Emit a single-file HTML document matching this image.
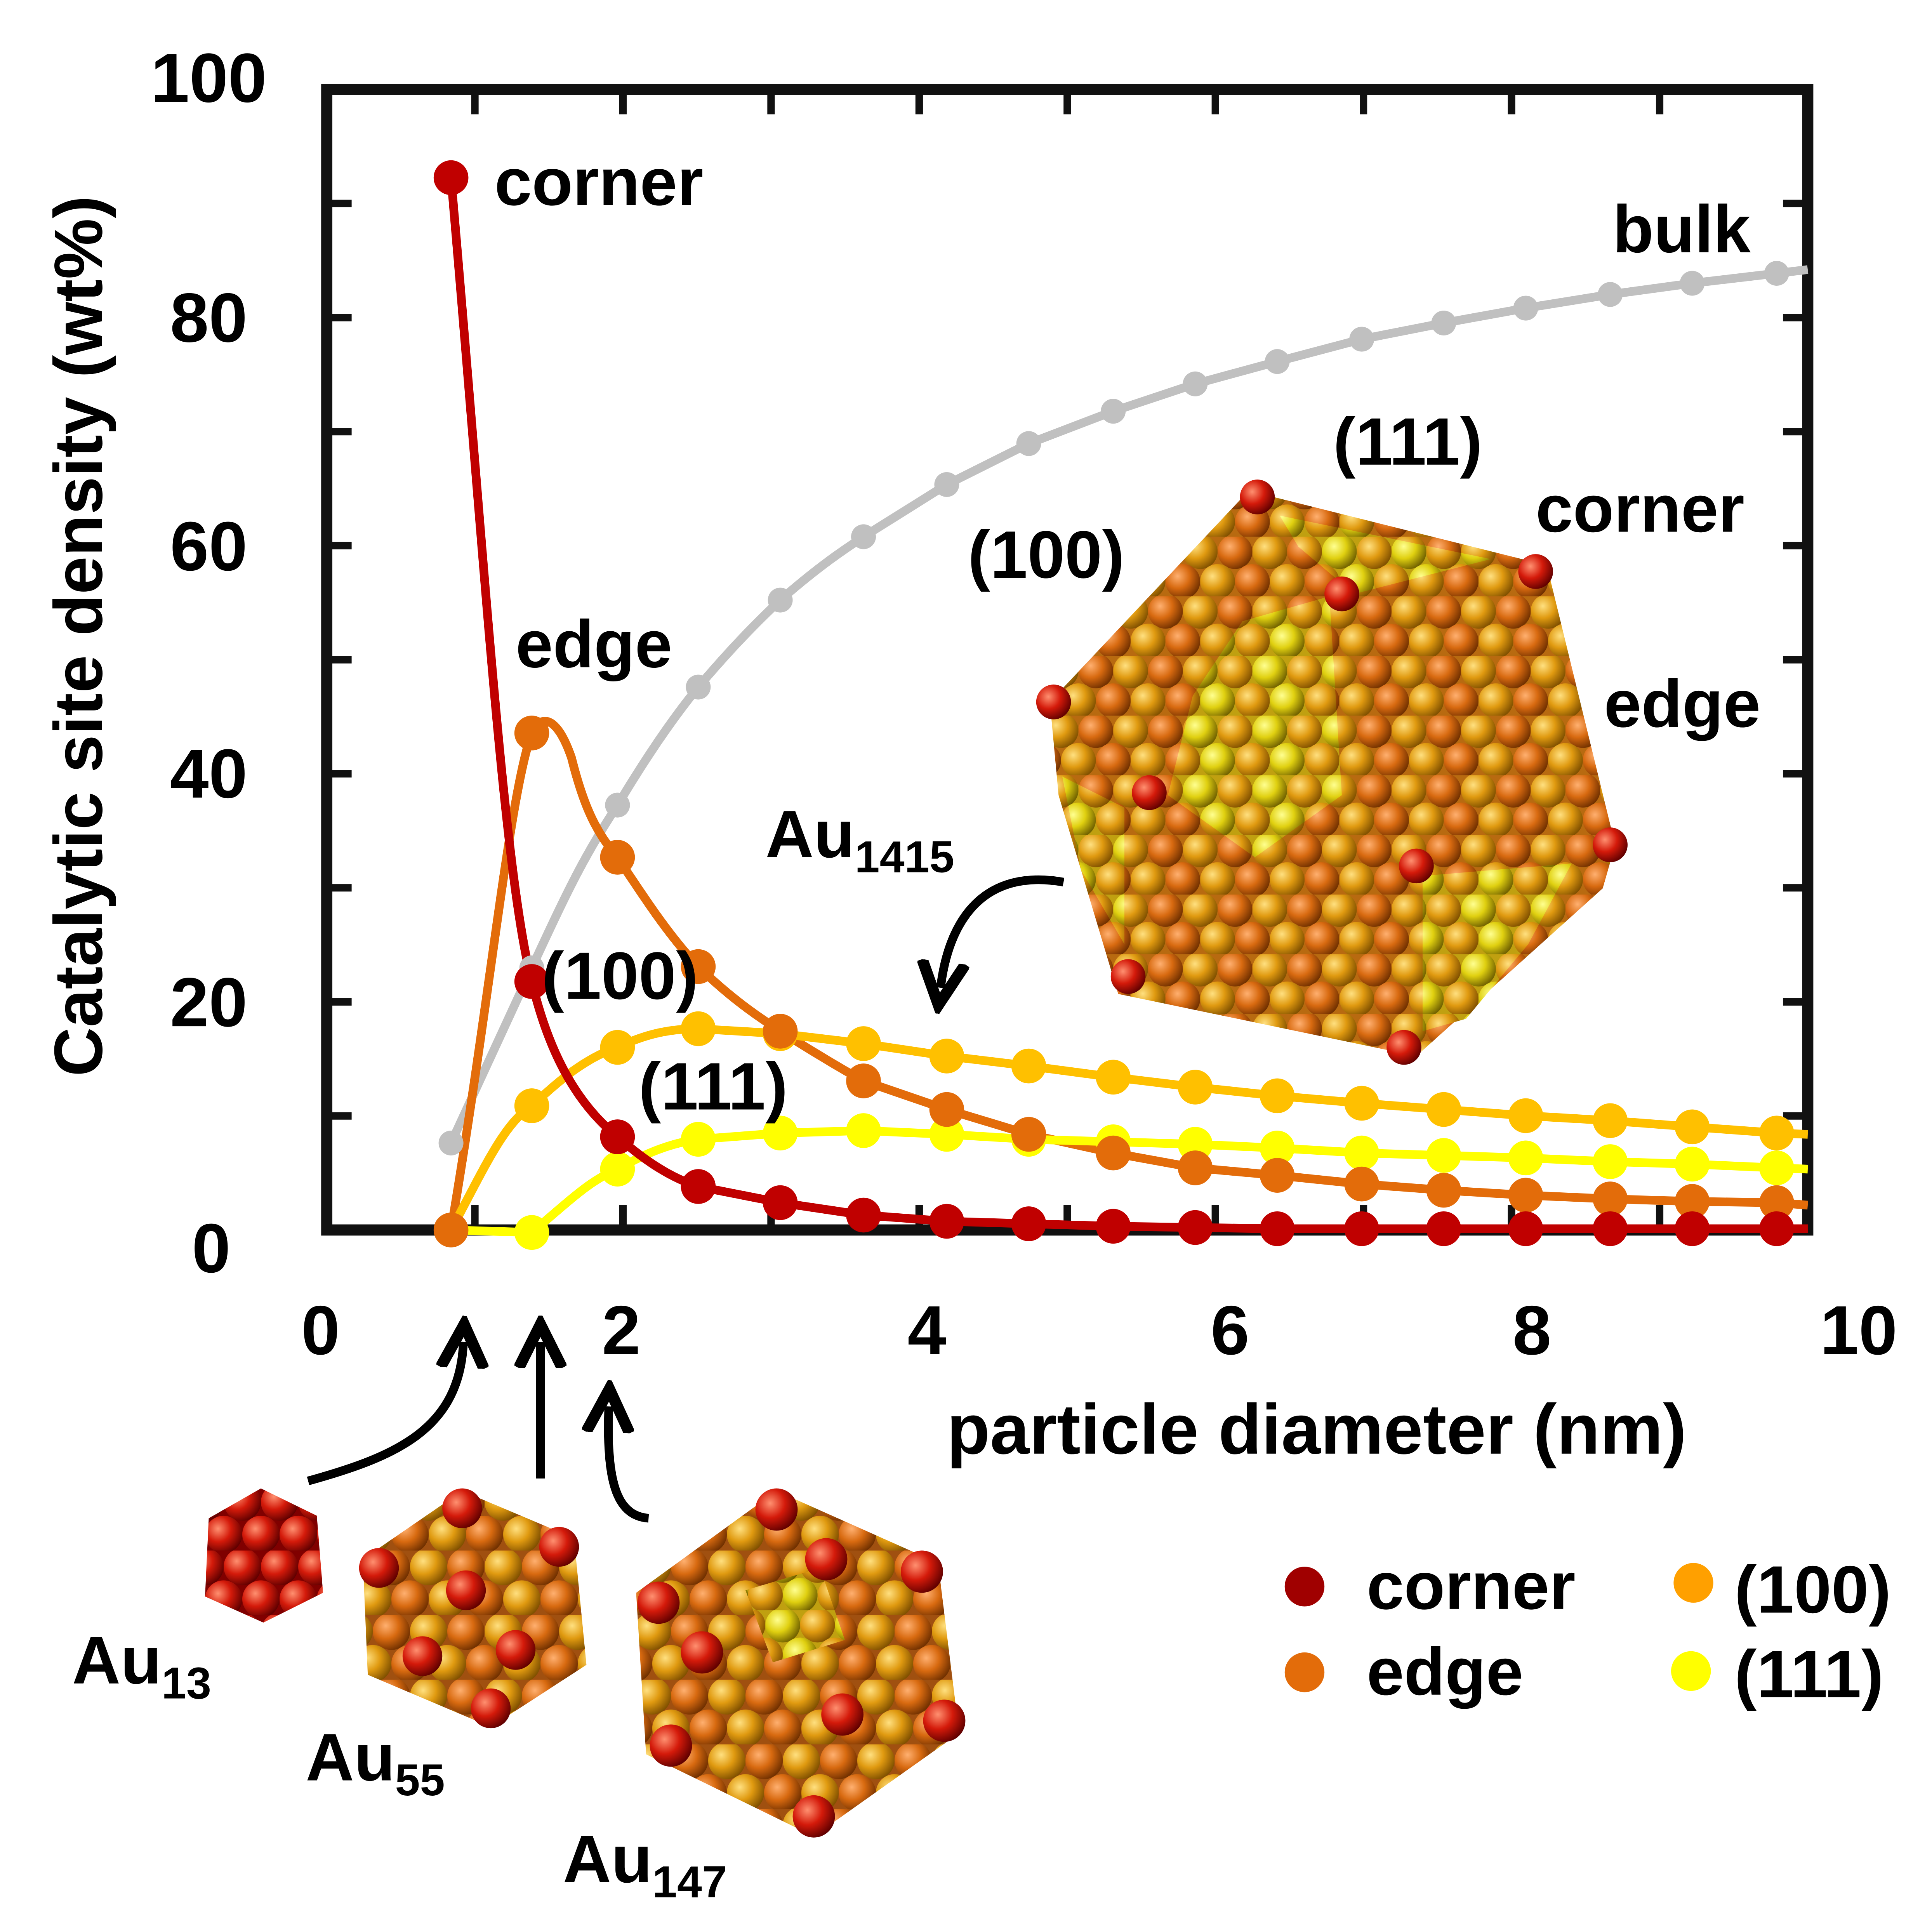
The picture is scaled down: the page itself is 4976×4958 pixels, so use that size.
<!DOCTYPE html>
<html><head><meta charset="utf-8"><style>
html,body{margin:0;padding:0;background:#fff}
svg{display:block}
text{font-family:"Liberation Sans",Arial,sans-serif;font-weight:bold;fill:#000}
</style></head><body>
<svg width="4976" height="4958" viewBox="0 0 1555 1549.4" xmlns="http://www.w3.org/2000/svg">
<defs>
<radialGradient id="gR" cx="35%" cy="35%" r="70%"><stop offset="0" stop-color="#ff9070"/><stop offset="0.5" stop-color="#d41a0a"/><stop offset="1" stop-color="#600000"/></radialGradient>
<radialGradient id="gO" cx="35%" cy="35%" r="70%"><stop offset="0" stop-color="#ffb070"/><stop offset="0.5" stop-color="#d86a10"/><stop offset="1" stop-color="#703000"/></radialGradient>
<radialGradient id="gA" cx="35%" cy="35%" r="70%"><stop offset="0" stop-color="#ffe080"/><stop offset="0.5" stop-color="#e09a10"/><stop offset="1" stop-color="#805000"/></radialGradient>
<radialGradient id="gY" cx="35%" cy="35%" r="70%"><stop offset="0" stop-color="#ffff90"/><stop offset="0.5" stop-color="#e0d010"/><stop offset="1" stop-color="#706000"/></radialGradient>
<pattern id="pO" patternUnits="userSpaceOnUse" width="56" height="48">
<rect width="56" height="48" fill="#b86a10"/>
<circle cx="14" cy="12" r="14" fill="url(#gA)"/><circle cx="42" cy="12" r="14" fill="url(#gO)"/>
<circle cx="0" cy="36" r="14" fill="url(#gO)"/><circle cx="28" cy="36" r="14" fill="url(#gA)"/><circle cx="56" cy="36" r="14" fill="url(#gO)"/>
</pattern>
<pattern id="pY" patternUnits="userSpaceOnUse" width="56" height="48">
<rect width="56" height="48" fill="#c0a010"/>
<circle cx="14" cy="12" r="14" fill="url(#gY)"/><circle cx="42" cy="12" r="14" fill="url(#gA)"/>
<circle cx="0" cy="36" r="14" fill="url(#gA)"/><circle cx="28" cy="36" r="14" fill="url(#gY)"/><circle cx="56" cy="36" r="14" fill="url(#gA)"/>
</pattern>
<pattern id="pR" patternUnits="userSpaceOnUse" width="30" height="52">
<rect width="30" height="52" fill="#800000"/>
<circle cx="15" cy="13" r="15" fill="url(#gR)"/><circle cx="0" cy="39" r="15" fill="url(#gR)"/><circle cx="30" cy="39" r="15" fill="url(#gR)"/>
</pattern>
<pattern id="pM" patternUnits="userSpaceOnUse" width="60" height="52">
<rect width="60" height="52" fill="#a05010"/>
<circle cx="15" cy="13" r="15" fill="url(#gO)"/><circle cx="45" cy="13" r="15" fill="url(#gA)"/>
<circle cx="0" cy="39" r="15" fill="url(#gA)"/><circle cx="30" cy="39" r="15" fill="url(#gO)"/><circle cx="60" cy="39" r="15" fill="url(#gA)"/>
</pattern>
<marker id="ah" markerWidth="6" markerHeight="6" refX="3" refY="3" orient="auto" markerUnits="strokeWidth"><path d="M0,0.5 L5,3 L0,5.5" fill="none" stroke="#000" stroke-width="1.3"/></marker>
</defs>

<!-- big cluster -->
<polygon points="845,565 1005,395 1245,455 1300,680 1290,715 1140,850 900,800 852,640" fill="url(#pO)"/>
<polygon points="1030,415 1200,450 1090,478 1045,440" fill="url(#pY)"/>
<polygon points="1000,500 1070,480 1080,640 1010,690 940,640 960,560" fill="url(#pY)"/>
<polygon points="1145,705 1265,695 1230,760 1180,820 1145,830" fill="url(#pY)"/>
<polygon points="855,625 905,650 905,760 870,700" fill="url(#pY)"/>
<g fill="url(#gR)">
<circle cx="1012" cy="400" r="14"/><circle cx="1236" cy="460" r="14"/><circle cx="1080" cy="478" r="14"/>
<circle cx="848" cy="565" r="14"/><circle cx="925" cy="638" r="14"/><circle cx="1140" cy="697" r="14"/>
<circle cx="1296" cy="680" r="14"/><circle cx="908" cy="786" r="14"/><circle cx="1130" cy="843" r="14"/>
</g>
<!-- small clusters -->
<polygon points="168,1222 210,1198 255,1220 260,1282 212,1306 165,1285" fill="url(#pR)"/>
<polygon points="292,1255 372,1200 462,1238 472,1340 395,1390 296,1348" fill="url(#pM)"/>
<polygon points="512,1282 625,1200 755,1258 772,1395 655,1478 520,1412" fill="url(#pM)"/>
<polygon points="600,1280 660,1262 680,1320 622,1338" fill="url(#pY)"/>
<g fill="url(#gR)">
<circle cx="372" cy="1214" r="16"/><circle cx="450" cy="1245" r="16"/><circle cx="305" cy="1262" r="16"/><circle cx="415" cy="1328" r="16"/><circle cx="340" cy="1333" r="16"/><circle cx="395" cy="1375" r="16"/><circle cx="375" cy="1280" r="16"/>
<circle cx="625" cy="1215" r="17"/><circle cx="742" cy="1265" r="17"/><circle cx="530" cy="1290" r="17"/><circle cx="565" cy="1330" r="17"/><circle cx="665" cy="1255" r="17"/><circle cx="678" cy="1380" r="17"/><circle cx="760" cy="1385" r="17"/><circle cx="540" cy="1405" r="17"/><circle cx="655" cy="1462" r="17"/>
</g>

<!-- ticks -->
<g stroke="#111" stroke-width="6">
<path d="M382.2,990v-20M501.4,990v-20M620.6,990v-20M739.8,990v-20M859,990v-20M978.2,990v-20M1097.4,990v-20M1216.6,990v-20M1335.8,990v-20"/>
<path d="M382.2,72v20M501.4,72v20M620.6,72v20M739.8,72v20M859,72v20M978.2,72v20M1097.4,72v20M1216.6,72v20M1335.8,72v20"/>
<path d="M263,898.2h20M263,806.4h20M263,714.6h20M263,622.8h20M263,531h20M263,439.2h20M263,347.4h20M263,255.6h20M263,163.8h20"/>
<path d="M1455,898.2h-20M1455,806.4h-20M1455,714.6h-20M1455,622.8h-20M1455,531h-20M1455,439.2h-20M1455,347.4h-20M1455,255.6h-20M1455,163.8h-20"/>
</g>
<rect x="263" y="72" width="1192" height="918" fill="none" stroke="#111" stroke-width="9"/>

<!-- series -->
<g fill="none" stroke-width="7" stroke-linejoin="round">
<path stroke="#c0c0c0" d="M363,920 L428,779 C460,710 470,690 497,648 C520,610 540,580 562,553 C590,520 610,500 628,483 C660,455 680,442 695,432 L762,390 L828,357 L896,331 L962,309 L1028,291 L1096,273 L1162,260 L1228,248 L1296,237 L1362,228 L1430,220 L1455,217"/>
<path stroke="#e36c0a" d="M363,990 C395,800 410,640 428,590 C435,575 448,575 460,610 C470,650 480,670 497,690 C520,725 540,755 562,778 C590,805 610,818 628,830 C660,850 680,862 695,870 L762,893 L828,913 L896,928 L962,940 L1028,946 L1096,953 L1162,958 L1228,962 L1296,965 L1362,967 L1430,968 L1455,970"/>
<path stroke="#ffc000" d="M363,990 C390,940 405,905 428,890 C450,870 470,852 497,843 C520,832 540,828 562,828 L628,832 L695,840 L762,850 L828,858 L896,867 L962,875 L1028,882 L1096,888 L1162,893 L1228,898 L1296,902 L1362,907 L1430,912 L1455,913"/>
<path stroke="#ffff00" d="M363,990 L428,992 C460,965 475,950 497,941 C520,928 540,920 562,917 L628,912 L695,910 L762,913 L828,917 L896,919 L962,921 L1028,924 L1096,928 L1162,930 L1228,932 L1296,935 L1362,937 L1430,940 L1455,941"/>
<path stroke="#c00000" d="M363,143 C390,450 405,700 428,790 C440,840 460,885 497,915 C520,935 540,948 562,955 L628,968 L695,978 L762,983 L828,985 L896,987 L962,988 L1028,989 L1096,989 L1162,989 L1228,989 L1296,989 L1362,989 L1430,989 L1455,989"/>
</g>
<!-- points -->
<g fill="#c0c0c0">
<circle cx="363" cy="920" r="10"/><circle cx="428" cy="779" r="10"/><circle cx="497" cy="648" r="10"/><circle cx="562" cy="553" r="10"/><circle cx="628" cy="483" r="10"/><circle cx="695" cy="432" r="10"/><circle cx="762" cy="390" r="10"/><circle cx="828" cy="357" r="10"/><circle cx="896" cy="331" r="10"/><circle cx="962" cy="309" r="10"/><circle cx="1028" cy="291" r="10"/><circle cx="1096" cy="273" r="10"/><circle cx="1162" cy="260" r="10"/><circle cx="1228" cy="248" r="10"/><circle cx="1296" cy="237" r="10"/><circle cx="1362" cy="228" r="10"/><circle cx="1430" cy="220" r="10"/>
</g>
<g fill="#ffff00">
<circle cx="428" cy="992" r="14"/><circle cx="497" cy="941" r="14"/><circle cx="562" cy="917" r="14"/><circle cx="628" cy="912" r="14"/><circle cx="695" cy="910" r="14"/><circle cx="762" cy="913" r="14"/><circle cx="828" cy="917" r="14"/><circle cx="896" cy="919" r="14"/><circle cx="962" cy="921" r="14"/><circle cx="1028" cy="924" r="14"/><circle cx="1096" cy="928" r="14"/><circle cx="1162" cy="930" r="14"/><circle cx="1228" cy="932" r="14"/><circle cx="1296" cy="935" r="14"/><circle cx="1362" cy="937" r="14"/><circle cx="1430" cy="940" r="14"/>
</g>
<g fill="#ffc000">
<circle cx="428" cy="890" r="14"/><circle cx="497" cy="843" r="14"/><circle cx="562" cy="828" r="14"/><circle cx="628" cy="832" r="14"/><circle cx="695" cy="840" r="14"/><circle cx="762" cy="850" r="14"/><circle cx="828" cy="858" r="14"/><circle cx="896" cy="867" r="14"/><circle cx="962" cy="875" r="14"/><circle cx="1028" cy="882" r="14"/><circle cx="1096" cy="888" r="14"/><circle cx="1162" cy="893" r="14"/><circle cx="1228" cy="898" r="14"/><circle cx="1296" cy="902" r="14"/><circle cx="1362" cy="907" r="14"/><circle cx="1430" cy="912" r="14"/>
</g>
<g fill="#e36c0a">
<circle cx="363" cy="990" r="14"/><circle cx="428" cy="590" r="14"/><circle cx="497" cy="690" r="14"/><circle cx="562" cy="778" r="14"/><circle cx="628" cy="830" r="14"/><circle cx="695" cy="870" r="14"/><circle cx="762" cy="893" r="14"/><circle cx="828" cy="913" r="14"/><circle cx="896" cy="928" r="14"/><circle cx="962" cy="940" r="14"/><circle cx="1028" cy="946" r="14"/><circle cx="1096" cy="953" r="14"/><circle cx="1162" cy="958" r="14"/><circle cx="1228" cy="962" r="14"/><circle cx="1296" cy="965" r="14"/><circle cx="1362" cy="967" r="14"/><circle cx="1430" cy="968" r="14"/>
</g>
<g fill="#c00000">
<circle cx="363" cy="143" r="14"/><circle cx="428" cy="790" r="14"/><circle cx="497" cy="915" r="14"/><circle cx="562" cy="955" r="14"/><circle cx="628" cy="968" r="14"/><circle cx="695" cy="978" r="14"/><circle cx="762" cy="983" r="14"/><circle cx="828" cy="985" r="14"/><circle cx="896" cy="987" r="14"/><circle cx="962" cy="988" r="14"/><circle cx="1028" cy="989" r="14"/><circle cx="1096" cy="989" r="14"/><circle cx="1162" cy="989" r="14"/><circle cx="1228" cy="989" r="14"/><circle cx="1296" cy="989" r="14"/><circle cx="1362" cy="989" r="14"/><circle cx="1430" cy="989" r="14"/>
</g>

<!-- labels -->
<g font-size="54">
<text x="398" y="165">corner</text>
<text x="1298" y="203">bulk</text>
<text x="1073" y="374">(111)</text>
<text x="1236" y="428">corner</text>
<text x="779" y="465">(100)</text>
<text x="1291" y="585">edge</text>
<text x="415" y="537">edge</text>
<text x="616" y="690">Au<tspan font-size="36" dy="12">1415</tspan></text>
<text x="436" y="804">(100)</text>
<text x="514" y="893">(111)</text>
</g>
<g font-size="56" text-anchor="middle">
<text x="168" y="82">100</text>
<text x="168" y="275">80</text>
<text x="168" y="459">60</text>
<text x="168" y="642">40</text>
<text x="168" y="826">20</text>
<text x="170" y="1024">0</text>
<text x="258" y="1090">0</text>
<text x="500" y="1090">2</text>
<text x="746" y="1090">4</text>
<text x="990" y="1090">6</text>
<text x="1233" y="1090">8</text>
<text x="1496" y="1090">10</text>
</g>
<text x="762" y="1170" font-size="57">particle diameter (nm)</text>
<text transform="translate(82,512) rotate(-90)" font-size="55" text-anchor="middle">Catalytic site density (wt%)</text>
<!-- arrows -->
<g fill="none" stroke="#000" stroke-width="7">
<path d="M856,710 C800,700 765,730 757,795" marker-end="url(#ah)"/>
<path d="M248,1192 C320,1172 370,1150 373,1080" marker-end="url(#ah)"/>
<path d="M435,1190 L435,1080" marker-end="url(#ah)"/>
<path d="M522,1222 C495,1220 488,1190 490,1132" marker-end="url(#ah)"/>
</g>
<!-- legend -->
<circle cx="1050" cy="1277" r="16" fill="#a00000"/>
<circle cx="1050" cy="1346" r="16" fill="#e36c0a"/>
<circle cx="1363" cy="1274" r="16" fill="#ffa000"/>
<circle cx="1361" cy="1345" r="16" fill="#ffff00"/>
<g font-size="54">
<text x="1100" y="1295">corner</text>
<text x="1100" y="1364">edge</text>
<text x="1396" y="1298">(100)</text>
<text x="1396" y="1366">(111)</text>
<text x="58" y="1355">Au<tspan font-size="36" dy="12">13</tspan></text>
<text x="246" y="1433">Au<tspan font-size="36" dy="12">55</tspan></text>
<text x="453" y="1515">Au<tspan font-size="36" dy="12">147</tspan></text>
</g>
</svg>
</body></html>
